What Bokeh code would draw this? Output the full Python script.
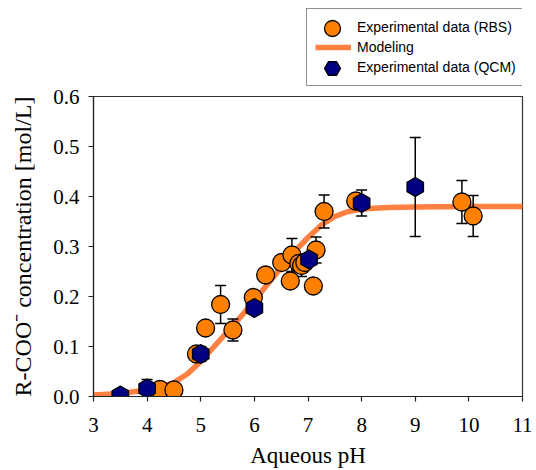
from bokeh.plotting import figure
from bokeh.layouts import column
from bokeh.models import (FixedTicker, PrintfTickFormatter,
                          Legend, LegendItem, Range1d)
from bokeh.embed import file_html
from bokeh.resources import INLINE
import numpy as np

# ---- data ----
rbs_ph = [4.24, 4.50, 4.92, 5.09, 5.37, 5.60, 5.98, 6.21, 6.51, 6.67, 6.70,
          6.83, 6.88, 6.94, 7.10, 7.15, 7.30, 7.89, 9.87, 10.08]
rbs_conc = [0.014, 0.013, 0.085, 0.137, 0.184, 0.133, 0.198, 0.243, 0.268, 0.231,
            0.283, 0.266, 0.262, 0.268, 0.221, 0.293, 0.370, 0.391, 0.389, 0.361]
rbs_err = [0, 0, 0, 0, 0.038, 0.022, 0, 0, 0, 0,
           0.033, 0, 0.022, 0, 0, 0.026, 0.033, 0, 0.043, 0.041]

qcm_ph = [3.5, 4.0, 5.0, 6.0, 7.02, 8.0, 9.0]
qcm_conc = [0.002, 0.016, 0.085, 0.177, 0.274, 0.387, 0.419]
qcm_err = [0, 0.018, 0.015, 0, 0, 0.026, 0.099]

model_ph = [3.0, 3.5, 4.0, 4.25, 4.5, 4.75, 5.0, 5.25, 5.5, 5.75, 6.0, 6.25,
            6.5, 6.75, 7.0, 7.25, 7.5, 7.75, 8.0, 8.5, 9.0, 10.0, 11.0]
model_conc = [0.003, 0.006, 0.013, 0.019, 0.028, 0.045, 0.070, 0.100, 0.130,
              0.160, 0.192, 0.225, 0.258, 0.290, 0.318, 0.343, 0.360, 0.370,
              0.375, 0.378, 0.379, 0.380, 0.380]

x_ticks = [3, 4, 5, 6, 7, 8, 9, 10, 11]
y_ticks = [0.0, 0.1, 0.2, 0.3, 0.4, 0.5, 0.6]

labels = ["Experimental data (RBS)", "Modeling", "Experimental data (QCM)"]

SERIF = "Liberation Serif"
SANS = "Liberation Sans"
ORANGE = "#FF8000"
NAVY = "#000080"
CURVE = "#FF8040"

circle_style = dict(marker="circle", fill_color=ORANGE, line_color="black",
                    line_width=1.3)
hex_style = dict(marker="hex", angle=np.pi / 2, fill_color=NAVY,
                 line_color="black", line_width=1.3)
curve_style = dict(line_color=CURVE, line_width=5.5)

# ---------------- main chart ----------------
p = figure(width=536, height=384, output_backend="svg", toolbar_location=None,
           x_range=Range1d(3, 11), y_range=Range1d(0, 0.6),
           min_border_left=93, min_border_right=14, min_border_top=10,
           min_border_bottom=74)
p.background_fill_color = "white"
p.border_fill_color = "white"
p.outline_line_color = "#333333"
p.outline_line_width = 1.2
p.xgrid.visible = False
p.ygrid.visible = False

for ax in (p.xaxis[0], p.yaxis[0]):
    ax.axis_line_color = "#222222"
    ax.axis_line_width = 1.2
    ax.major_tick_line_color = "#222222"
    ax.major_tick_line_width = 1.2
    ax.major_tick_in = 0
    ax.major_tick_out = 5
    ax.minor_tick_line_color = None
    ax.major_label_text_font = SERIF
    ax.major_label_text_font_size = "21px"
    ax.major_label_text_color = "black"
    ax.axis_label_text_font = SERIF
    ax.axis_label_text_font_size = "23px"
    ax.axis_label_text_font_style = "normal"
    ax.axis_label_text_color = "black"

p.yaxis.axis_label_text_font_size = "24px"
p.xaxis.ticker = FixedTicker(ticks=x_ticks)
p.yaxis.ticker = FixedTicker(ticks=y_ticks)
p.yaxis.formatter = PrintfTickFormatter(format="%.1f")
p.xaxis.axis_label = "Aqueous pH"
p.yaxis.axis_label = "R-COO\u207b concentration [mol/L]"
p.xaxis.major_label_standoff = 16
p.xaxis.axis_label_standoff = 8
p.yaxis.major_label_standoff = 9
p.yaxis.axis_label_standoff = 14

# model curve
p.line(model_ph, model_conc, **curve_style)

# error bars
def err_bars(xs, ys, es):
    bx = [x for x, e in zip(xs, es) if e > 0]
    lo = [y - e for y, e in zip(ys, es) if e > 0]
    hi = [y + e for y, e in zip(ys, es) if e > 0]
    p.segment(x0=bx, y0=lo, x1=bx, y1=hi, line_color="black", line_width=1.5)
    p.scatter(bx + bx, lo + hi, marker="dash", size=11, line_color="black",
              line_width=1.5)

err_bars(rbs_ph, rbs_conc, rbs_err)
err_bars(qcm_ph, qcm_conc, qcm_err)

p.scatter(rbs_ph, rbs_conc, size=18, **circle_style)
p.scatter(qcm_ph, qcm_conc, size=19, **hex_style)

# ---------------- legend strip above the chart ----------------
# (its frame is aligned with the chart's frame by the column layout)
lf = figure(width=536, height=86, output_backend="svg", toolbar_location=None,
            x_range=Range1d(0, 1), y_range=Range1d(0, 1),
            x_axis_type=None, y_axis_type=None,
            min_border_left=93, min_border_right=14, min_border_top=0,
            min_border_bottom=0)
lf.outline_line_color = None
lf.xgrid.visible = False
lf.ygrid.visible = False
lf.background_fill_color = "white"
lf.border_fill_color = "white"

nan = [np.nan]  # key glyphs only: nothing is drawn in the strip itself
k_rbs = lf.scatter(nan, nan, size=18, **circle_style)
k_line = lf.line(nan, nan, **curve_style)
k_qcm = lf.scatter(nan, nan, size=19, **hex_style)

leg = Legend(items=[
    LegendItem(label=labels[0], renderers=[k_rbs]),
    LegendItem(label=labels[1], renderers=[k_line]),
    LegendItem(label=labels[2], renderers=[k_qcm]),
], location=(213, 0))
leg.label_text_font = SANS
leg.label_text_font_size = "14px"
leg.label_text_color = "black"
leg.glyph_width = 36
leg.glyph_height = 20
leg.label_height = 20
leg.label_standoff = 6
leg.spacing = 0
leg.padding = 8
leg.margin = 0
leg.border_line_color = "#222222"
leg.border_line_width = 1.2
leg.background_fill_color = "white"
leg.background_fill_alpha = 1.0
lf.add_layout(leg, "center")

# larger marker symbols laid over the legend's own (small) symbols
big = Legend(items=[
    LegendItem(label=" ", renderers=[k_rbs]),
    LegendItem(label=" ", renderers=[k_qcm]),
], location=(219, -2))
big.glyph_width = 40
big.glyph_height = 40
big.label_height = 40
big.label_standoff = 0
big.spacing = 0
big.padding = 0
big.margin = 0
big.border_line_color = None
big.background_fill_alpha = 0
big.label_text_font_size = "14px"
lf.add_layout(big, "center")

layout = column(lf, p, spacing=0)
open("out.html", "w").write(file_html(layout, INLINE))
